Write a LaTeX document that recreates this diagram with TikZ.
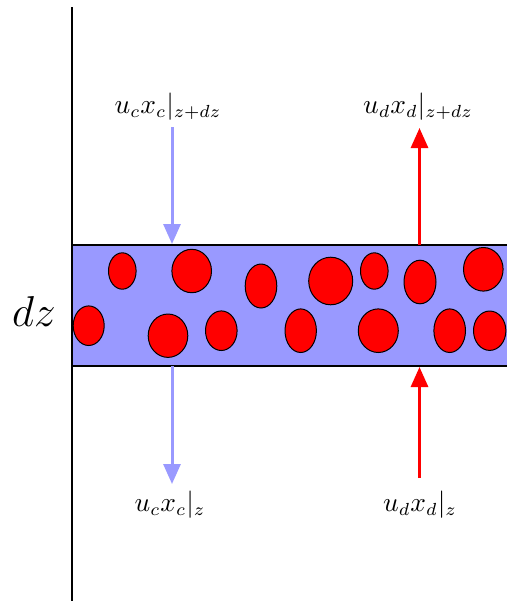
\documentclass[tikz,border=0pt]{standalone}
\usetikzlibrary{arrows.meta}
\definecolor{bandblue}{RGB}{153,153,255}
\begin{document}
\begin{tikzpicture}[x=0.4pt,y=-0.4pt,
  wall/.style={line width=0.8pt},
  bandfill/.style={fill=bandblue},
  bandedge/.style={line width=0.6pt},
  drop/.style={fill=red,draw=black,line width=0.4pt},
  flowc/.style={draw=bandblue,line width=1.2pt,-{Triangle[width=6.8pt,length=8pt]}},
  flowd/.style={draw=red,line width=1.2pt,-{Triangle[width=6.8pt,length=8pt]}},
  lab/.style={inner sep=0pt,font=\fontsize{10.7}{13}\selectfont}]
\useasboundingbox (0,0) rectangle (507,601);
% band
\fill[bandfill] (72,245) rectangle (507,366);
\draw[bandedge] (507,245) -- (72,245);
\draw[bandedge] (507,366) -- (72,366);
% drops
\foreach \x/\y/\a/\b in {122.3/271/13.8/18.2, 191.7/271/19.8/21.7, 261/286/15.8/22,
  330.7/281/22/23.8, 374.3/271/13.8/18.2, 420/282/16/21.8, 483.3/269.3/19.8/21.8,
  88.7/325.7/15.5/19.8, 168/335.7/19.8/21.7, 221.3/330.7/15.8/19.8, 300.7/330.7/15.7/21.8,
  378.3/330.7/20/21.8, 449.7/330.7/15.8/21.8, 489.7/330.7/16.2/19.7}
  \draw[drop] (\x,\y) ellipse [x radius=\a, y radius=\b];
% wall
\coordinate (wtop) at (72,7);
\coordinate (wbot) at (72,601);
\draw[wall] (wtop) -- (wbot);
% labels
\node[lab] (lct) at (168,107) {$u_cx_c|_{z+dz}$};
\node[lab] (ldt) at (418,107) {$u_dx_d|_{z+dz}$};
\node[lab] (lcb) at (170,505) {$u_cx_c|_z$};
\node[lab] (ldb) at (420,505) {$u_dx_d|_z$};
\node[inner sep=0pt] (dz) at (34,311) {\LARGE $dz$};
% arrow ends
\coordinate (c1s) at (172,127);
\coordinate (c1e) at (172,244);
\coordinate (c2s) at (172,366);
\coordinate (c2e) at (172,484);
\coordinate (d1s) at (419.5,245);
\coordinate (d1e) at (419.5,128);
\coordinate (d2s) at (419.5,478);
\coordinate (d2e) at (419.5,367);
\draw[flowc] (c1s) -- (c1e);
\draw[flowc] (c2s) -- (c2e);
\draw[flowd] (d1s) -- (d1e);
\draw[flowd] (d2s) -- (d2e);
\end{tikzpicture}
\end{document}
